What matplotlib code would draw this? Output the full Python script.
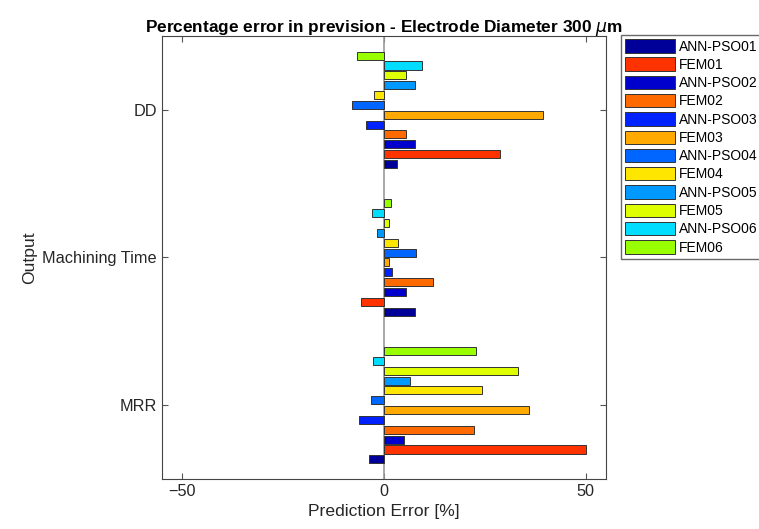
import numpy as np
import matplotlib
matplotlib.use('Agg')
import matplotlib.pyplot as plt

plt.rcParams['font.family'] = ['Liberation Sans', 'DejaVu Sans']

outputs = ['MRR', 'Machining Time', 'DD']
series = ['ANN-PSO01', 'FEM01', 'ANN-PSO02', 'FEM02', 'ANN-PSO03', 'FEM03',
          'ANN-PSO04', 'FEM04', 'ANN-PSO05', 'FEM05', 'ANN-PSO06', 'FEM06']

# rows: series, columns: MRR, Machining Time, DD
errors = [
    [-3.6, 7.8, 3.3],
    [50.1, -5.7, 28.8],
    [5.1, 5.4, 7.8],
    [22.4, 12.1, 5.5],
    [-6.1, 2.1, -4.5],
    [35.9, 1.3, 39.5],
    [-3.2, 8.1, -7.8],
    [24.4, 3.5, -2.5],
    [6.4, -1.7, 7.8],
    [33.2, 1.3, 5.4],
    [-2.7, -2.9, 9.4],
    [22.9, 1.9, -6.7],
]

colors = ['#000099', '#ff3300', '#0000cc', '#ff6a00', '#0022ff', '#ffaa00',
          '#0066ff', '#ffe600', '#0099ff', '#ddff00', '#00ddff', '#99ff00']

fig = plt.figure(figsize=(7.59, 5.29), dpi=100)
ax = fig.add_axes([0.2134, 0.0945, 0.5846, 0.8375])

y = np.arange(1, len(outputs) + 1)
n = len(series)
step = 0.8 / n
for i, name in enumerate(series):
    pos = y - 0.4 + step * (i + 0.5)
    ax.barh(pos, errors[i], height=step * 0.82, color=colors[i],
            edgecolor='#333333', linewidth=0.7, label=name, zorder=3)

ax.axvline(0, color='#999999', linewidth=1.2, zorder=2)

ax.set_xlim(-55, 55)
ax.set_ylim(0.5, 3.5)
ax.set_xticks([-50, 0, 50])
ax.set_yticks(y)
ax.set_yticklabels(outputs)
ax.tick_params(direction='in', top=True, right=True, labelsize=11.7,
               color='#555555', length=4, labelcolor='#262626')
for s in ax.spines.values():
    s.set_color('#444444')
    s.set_linewidth(0.8)

ax.set_xlabel('Prediction Error [%]', fontsize=12.6, color='#262626')
ax.set_ylabel('Output', fontsize=12.6, color='#262626')
ax.set_title(r'Percentage error in prevision - Electrode Diameter 300 $\mu$m',
             fontsize=12.4, fontweight='bold', pad=3)

fig.legend(loc='upper left', bbox_to_anchor=(621 / 759, 1 - 35 / 529),
           fontsize=10, frameon=True, fancybox=False, edgecolor='#444444',
           handlelength=3.6, handleheight=1.1, handletextpad=0.3,
           labelspacing=0.28, borderpad=0.3, borderaxespad=0)

fig.savefig('out.png', dpi=100)
